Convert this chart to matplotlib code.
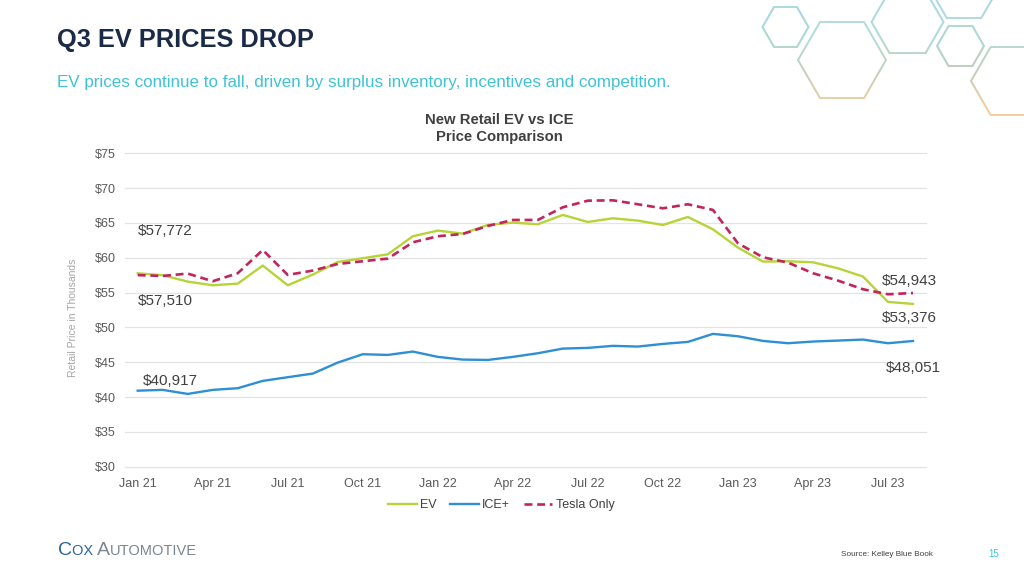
import matplotlib
matplotlib.use('Agg')
import matplotlib.pyplot as plt
import numpy as np
from matplotlib.collections import LineCollection
from matplotlib.colors import LinearSegmentedColormap

plt.rcParams['font.family'] = ['Liberation Sans', 'DejaVu Sans']

# monthly data, Jan 21 .. Aug 23 (thousands of $)
month_names = ['Jan', 'Feb', 'Mar', 'Apr', 'May', 'Jun', 'Jul', 'Aug', 'Sep', 'Oct', 'Nov', 'Dec']
months = [f'{m} {y}' for y in ['21', '22', '23'] for m in month_names][:32]

ev = [57.772, 57.49, 56.58, 56.05, 56.29, 58.88, 56.05, 57.58, 59.40, 59.93, 60.50, 63.09,
      63.90, 63.47, 64.71, 65.05, 64.81, 66.15, 65.14, 65.67, 65.33, 64.71, 65.86, 64.09,
      61.46, 59.45, 59.50, 59.35, 58.49, 57.30, 53.66, 53.376]
ice = [40.917, 41.03, 40.45, 41.03, 41.27, 42.32, 42.85, 43.37, 44.95, 46.15, 46.05, 46.53,
       45.77, 45.38, 45.33, 45.77, 46.29, 46.96, 47.06, 47.35, 47.25, 47.63, 47.92, 49.07,
       48.73, 48.06, 47.73, 47.97, 48.11, 48.25, 47.73, 48.051]
tesla = [57.510, 57.39, 57.73, 56.63, 57.78, 61.12, 57.54, 58.16, 59.11, 59.50, 59.88, 62.22,
         63.09, 63.42, 64.57, 65.43, 65.43, 67.25, 68.20, 68.25, 67.68, 67.10, 67.68, 66.87,
         62.08, 60.07, 59.31, 57.78, 56.72, 55.48, 54.76, 54.943]

yticks = [30, 35, 40, 45, 50, 55, 60, 65, 70, 75]

c_ev = '#B6D437'
c_ice = '#2E8FD4'
c_tesla = '#C2245C'
c_text = '#595959'

W, H = 1024, 575
fig = plt.figure(figsize=(W / 100, H / 100), dpi=100)
fig.patch.set_facecolor('white')

# background axes in pixel coords for slide decoration
bg = fig.add_axes([0, 0, 1, 1], zorder=0)
bg.set_xlim(0, W)
bg.set_ylim(H, 0)
bg.axis('off')

renderer = fig.canvas.get_renderer()


def fit(t, target):
    # scale font size so the text spans target pixels
    w = t.get_window_extent(renderer).width
    t.set_fontsize(t.get_fontsize() * target / w)


# hexagon outlines, top right
cmap = LinearSegmentedColormap.from_list('hex', ['#A3D5E8', '#A8D9D2', '#BFC9B4', '#F2C98A'])
hexes = [(785.5, 27, 23), (842, 60, 44), (907.5, 22, 36), (964, -11, 34), (960.5, 46, 23.5), (1010, 81, 39)]
for cx, cy, r in hexes:
    ang = np.radians(np.arange(0, 361, 60))
    vx = cx + r * np.cos(ang)
    vy = cy + r * np.sin(ang)
    segs, cols = [], []
    for k in range(6):
        xs = np.linspace(vx[k], vx[k + 1], 25)
        ys = np.linspace(vy[k], vy[k + 1], 25)
        for j in range(24):
            segs.append([(xs[j], ys[j]), (xs[j + 1], ys[j + 1])])
            cols.append(cmap(np.clip((ys[j] + ys[j + 1]) / 2 / 110, 0, 1)))
    bg.add_collection(LineCollection(segs, colors=cols, linewidths=1.4, alpha=0.7, capstyle='round'))

# slide text
t = bg.text(57, 40, 'Q3 EV PRICES DROP', fontsize=18, fontweight='bold', color='#1B2A47', va='center')
fit(t, 256)
t = bg.text(57, 82, 'EV prices continue to fall, driven by surplus inventory, incentives and competition.',
            fontsize=11, color='#3EC3D5', va='center')
fit(t, 612)

t = bg.text(499, 120, 'New Retail EV vs ICE', fontsize=10, fontweight='bold', color='#404040',
            ha='center', va='center')
fit(t, 148)
bg.text(499, 137, 'Price Comparison', fontsize=t.get_fontsize(), fontweight='bold', color='#404040',
        ha='center', va='center')

bg.text(73, 318, 'Retail Price in Thousands', fontsize=7.5, color='#A6A6A6', rotation=90,
        ha='center', va='center')

# footer logo in small caps
x = 58
for s, size, col in [('C', 14, '#2B6497'), ('OX ', 10.5, '#2B6497'), ('A', 14, '#7A8691'), ('UTOMOTIVE', 10.5, '#7A8691')]:
    t = bg.text(x, 555, s, fontsize=size, color=col, va='baseline')
    x = t.get_window_extent(renderer).x1
t = bg.text(841, 554, 'Source: Kelley Blue Book', fontsize=5.5, color='#404040', va='center')
fit(t, 92)
bg.text(988, 554, '15', fontsize=7, color='#3EC3D5', va='center')

# chart
ax = fig.add_axes([125.2 / W, 1 - 466.7 / H, 800.3 / W, 313.4 / H], zorder=1)
ax.patch.set_alpha(0)
xs = np.arange(len(months))
ax.plot(xs, ev, color=c_ev, lw=1.7, label='EV', zorder=3)
ax.plot(xs, ice, color=c_ice, lw=1.7, label='ICE+', zorder=3)
ax.plot(xs, tesla, color=c_tesla, lw=1.9, dashes=(3, 1.8), label='Tesla Only', zorder=4)

ax.set_xlim(-0.5, len(months) - 0.5)
ax.set_ylim(30, 75)
ax.set_yticks(yticks)
ax.set_yticklabels([f'${v}' for v in yticks])
ax.set_xticks(xs[::3])
ax.set_xticklabels(months[::3])
ax.tick_params(length=0, labelsize=9, labelcolor=c_text)
ax.tick_params(axis='y', pad=7)
ax.tick_params(axis='x', pad=8)
ax.grid(axis='y', color='#E3E3E3', lw=0.9, clip_on=False)
ax.set_axisbelow(True)
for sp in ax.spines.values():
    sp.set_visible(False)

# point labels
lab = dict(fontsize=11, color='#404040', ha='left', va='center')
ax.text(0, 63.85, f'${ev[0] * 1000:,.0f}', **lab)
ax.text(0, 53.85, f'${tesla[0] * 1000:,.0f}', **lab)
ax.text(0.22, 42.37, f'${ice[0] * 1000:,.0f}', **lab)
ax.text(29.76, 56.72, f'${tesla[-1] * 1000:,.0f}', **lab)
ax.text(29.76, 51.33, f'${ev[-1] * 1000:,.0f}', **lab)
ax.text(29.93, 44.15, f'${ice[-1] * 1000:,.0f}', **lab)

fig.legend(loc='center', bbox_to_anchor=(501 / W, 1 - 505 / H), ncol=3, frameon=False,
           fontsize=9, handlelength=2.3, handletextpad=0.25, columnspacing=1.1, labelcolor='#404040')

fig.savefig('out.png', dpi=100)
